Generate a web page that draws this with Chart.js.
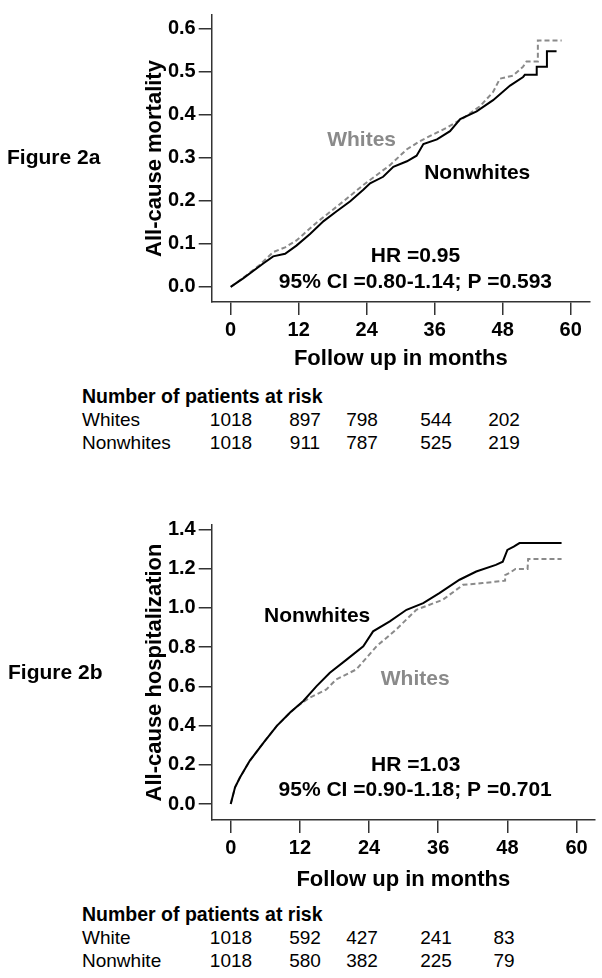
<!DOCTYPE html>
<html>
<head>
<meta charset="utf-8">
<script src="https://cdn.jsdelivr.net/npm/chart.js@4.4.1/dist/chart.umd.min.js"></script>
<style>
  html, body { margin: 0; padding: 0; background: #fff; }
  body { width: 602px; height: 978px; position: relative; overflow: hidden;
         font-family: "Liberation Sans", Arial, sans-serif; color: #000; }
  canvas { position: absolute; left: 0; }
  .lbl { position: absolute; white-space: nowrap; line-height: 1.15; transform: translateY(-50%); }
  .fig { font-weight: bold; font-size: 21px; }
  .head { font-weight: bold; font-size: 19.5px; }
  .row { font-size: 19px; }
  .num { font-size: 19px; transform: translate(-50%, -50%); }
</style>
</head>
<body>
<canvas id="chart-mort" width="602" height="380" style="top:0"></canvas>
<canvas id="chart-hosp" width="602" height="420" style="top:480px"></canvas>
<div id="extras"></div>
<script>
// ---- data ----
const monthTicks = [0, 12, 24, 36, 48, 60];
const mortTicks = [0, 0.1, 0.2, 0.3, 0.4, 0.5, 0.6];
const hospTicks = [0, 0.2, 0.4, 0.6, 0.8, 1.0, 1.2, 1.4];

// Figure 2a: all-cause mortality
const mortNwMonths = [0, 2.2, 5.8, 7.5, 9.6, 11.6, 14.0, 16.4, 18.7, 21.1, 23.4, 24.6, 26.9, 28.7, 31.1, 32.8, 34.0, 36.4, 38.7, 40.5, 43.4, 46.3, 49.3, 51.6, 51.9, 54.0, 54.0, 55.8, 55.8, 57.5];
const mortNw = [0, 0.020, 0.055, 0.071, 0.077, 0.096, 0.123, 0.153, 0.176, 0.199, 0.226, 0.241, 0.256, 0.279, 0.292, 0.305, 0.332, 0.343, 0.362, 0.390, 0.408, 0.434, 0.468, 0.488, 0.493, 0.493, 0.512, 0.512, 0.548, 0.548];
const mortWMonths = [0, 2.2, 5.0, 7.5, 9.6, 11.6, 15.2, 19.9, 23.4, 28.1, 31.1, 33.4, 38.1, 41.1, 44.0, 46.3, 47.5, 49.8, 51.6, 52.2, 53.4, 54.2, 54.2, 58.4];
const mortW = [0, 0.021, 0.050, 0.081, 0.092, 0.108, 0.150, 0.199, 0.237, 0.283, 0.320, 0.339, 0.370, 0.393, 0.420, 0.453, 0.484, 0.491, 0.512, 0.524, 0.524, 0.524, 0.573, 0.573];

// Figure 2b: all-cause hospitalization
const hospNwMonths = [0, 0.75, 1.6, 3.3, 5.7, 8.0, 10.3, 12.6, 14.9, 17.2, 20.1, 23.0, 24.7, 27.6, 30.5, 33.4, 36.2, 39.7, 42.6, 46.0, 47.2, 48.0, 49.1, 50.1, 57.4];
const hospNw = [0, 0.085, 0.135, 0.220, 0.313, 0.398, 0.466, 0.525, 0.601, 0.669, 0.736, 0.804, 0.880, 0.931, 0.990, 1.024, 1.075, 1.143, 1.185, 1.219, 1.235, 1.295, 1.312, 1.330, 1.330];
const hospWMonths = [0, 0.75, 1.6, 3.3, 5.7, 8.0, 10.3, 11.6, 13.7, 16.6, 18.3, 21.8, 25.3, 28.7, 32.2, 36.8, 40.3, 43.7, 47.6, 47.6, 48.5, 49.4, 51.5, 51.6, 57.4];
const hospW = [0, 0.085, 0.135, 0.220, 0.313, 0.398, 0.466, 0.499, 0.542, 0.584, 0.635, 0.686, 0.804, 0.889, 0.990, 1.041, 1.117, 1.126, 1.138, 1.167, 1.180, 1.198, 1.198, 1.249, 1.249];

// patients at risk (at 0, 12, 24, 36, 48 months)
const riskWhites2a = [1018, 897, 798, 544, 202];
const riskNonwhites2a = [1018, 911, 787, 525, 219];
const riskWhite2b = [1018, 592, 427, 241, 83];
const riskNonwhite2b = [1018, 580, 382, 225, 79];

// ---- drawing ----
const FONT = '"Liberation Sans", Arial, sans-serif';
const GRAY = "#8a8a8a";
const AXIS = "#333";

function pts(xs, ys) {
  return xs.map(function (x, i) { return { x: x, y: ys[i] }; });
}

const textPlugin = {
  id: "notes",
  afterDatasetsDraw: function (chart, args, opts) {
    const ctx = chart.ctx;
    ctx.save();
    ctx.textAlign = "center";
    ctx.textBaseline = "middle";
    ctx.font = "bold 21px " + FONT;
    (opts.items || []).forEach(function (it) {
      ctx.fillStyle = it.color;
      ctx.fillText(it.text, chart.scales.x.getPixelForValue(it.x), chart.scales.y.getPixelForValue(it.y));
    });
    ctx.restore();
  }
};

function kmChart(id, cfg) {
  const tickFont = { family: FONT, size: 20, weight: "bold" };
  const titleFont = { family: FONT, size: 22, weight: "bold" };
  return new Chart(document.getElementById(id), {
    type: "line",
    data: {
      datasets: [
        { label: "Nonwhites", data: cfg.nw, borderColor: "#000", borderWidth: 2, order: 0 },
        { label: "Whites", data: cfg.w, borderColor: GRAY, borderWidth: 2, borderDash: [5, 3], order: 1 }
      ]
    },
    plugins: [textPlugin],
    options: {
      responsive: false,
      animation: false,
      layout: { padding: cfg.padding },
      elements: { point: { radius: 0 }, line: { tension: 0, fill: false } },
      plugins: { legend: { display: false }, tooltip: { enabled: false }, notes: { items: cfg.notes } },
      scales: {
        x: {
          type: "linear", min: cfg.xMin, max: cfg.xMax,
          afterBuildTicks: function (s) { s.ticks = monthTicks.map(function (v) { return { value: v }; }); },
          afterFit: function (s) { s.height = cfg.xHeight; },
          ticks: { autoSkip: false, maxRotation: 0, padding: 3, color: "#000", font: tickFont,
                   callback: function (v) { return String(v); } },
          grid: { drawOnChartArea: false, drawTicks: true, tickLength: 13, color: AXIS, lineWidth: 1.5 },
          border: { display: true, color: AXIS, width: 1.5 },
          title: { display: true, text: "Follow up in months", color: "#000", font: titleFont,
                   padding: { top: 0, bottom: cfg.xTitlePad } }
        },
        y: {
          type: "linear", min: cfg.yMin, max: cfg.yMax,
          afterBuildTicks: function (s) { s.ticks = cfg.yTicks.map(function (v) { return { value: v }; }); },
          afterFit: function (s) { s.width = 211.7; },
          ticks: { autoSkip: false, padding: 3, color: "#000", font: tickFont,
                   callback: function (v) { return v.toFixed(1); } },
          grid: { drawOnChartArea: false, drawTicks: true, tickLength: 13, color: AXIS, lineWidth: 1.5 },
          border: { display: true, color: AXIS, width: 1.5 },
          title: { display: true, text: cfg.yTitle, color: "#000", font: titleFont,
                   padding: { top: 142, bottom: 0 } }
        }
      }
    }
  });
}

kmChart("chart-mort", {
  nw: pts(mortNwMonths, mortNw),
  w: pts(mortWMonths, mortW),
  padding: { top: 10, right: 12, left: 0, bottom: 0 },
  xMin: -3.35, xMax: 63.4, xHeight: 78, xTitlePad: 8,
  yMin: -0.035, yMax: 0.632, yTicks: mortTicks,
  yTitle: "All-cause mortality",
  notes: [
    { text: "Whites", x: 23.1, y: 0.340, color: GRAY },
    { text: "Nonwhites", x: 43.5, y: 0.265, color: "#000" },
    { text: "HR =0.95", x: 32.6, y: 0.0707, color: "#000" },
    { text: "95% CI =0.80-1.14; P =0.593", x: 32.6, y: 0.0114, color: "#000" }
  ]
});

kmChart("chart-hosp", {
  nw: pts(hospNwMonths, hospNw),
  w: pts(hospWMonths, hospW),
  padding: { top: 45, right: 7, left: 0, bottom: 0 },
  xMin: -3.3, xMax: 63.2, xHeight: 80, xTitlePad: 7,
  yMin: -0.0815, yMax: 1.422, yTicks: hospTicks,
  yTitle: "All-cause hospitalization",
  notes: [
    { text: "Nonwhites", x: 15.0, y: 0.958, color: "#000" },
    { text: "Whites", x: 32.0, y: 0.637, color: GRAY },
    { text: "HR =1.03", x: 32.1, y: 0.199, color: "#000" },
    { text: "95% CI =0.90-1.18; P =0.701", x: 32.0, y: 0.071, color: "#000" }
  ]
});

// ---- labels and risk tables (html) ----
const colCenters = [231, 305, 362, 436, 504];
const extras = document.getElementById("extras");
function addText(cls, text, left, top) {
  const d = document.createElement("div");
  d.className = "lbl " + cls;
  d.textContent = text;
  d.style.left = left + "px";
  d.style.top = top + "px";
  extras.appendChild(d);
}
function riskTable(top, rows) {
  addText("head", "Number of patients at risk", 82, top);
  rows.forEach(function (r, i) {
    const y = top + 23.5 * (i + 1);
    addText("row", r.name, 82, y);
    r.values.forEach(function (v, j) { addText("num", String(v), colCenters[j], y); });
  });
}
addText("fig", "Figure 2a", 7, 157);
addText("fig", "Figure 2b", 8, 672);
riskTable(396, [{ name: "Whites", values: riskWhites2a }, { name: "Nonwhites", values: riskNonwhites2a }]);
riskTable(914, [{ name: "White", values: riskWhite2b }, { name: "Nonwhite", values: riskNonwhite2b }]);
</script>
</body>
</html>
